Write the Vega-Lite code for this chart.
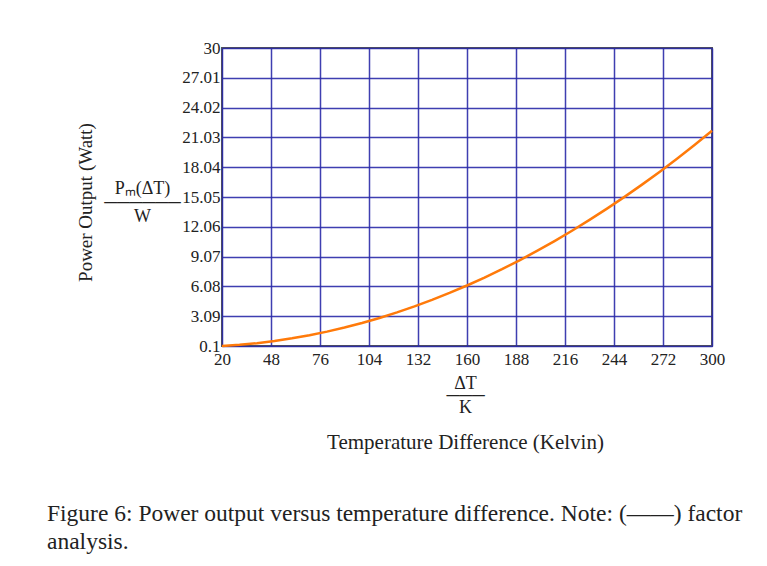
{
  "$schema": "https://vega.github.io/schema/vega-lite/v6.json",
  "width": 490,
  "height": 298,
  "autosize": "none",
  "padding": {"left": 222, "top": 48, "right": 55, "bottom": 220},
  "background": "white",
  "config": {
    "view": {"stroke": "#555555", "strokeWidth": 2},
    "font": "Liberation Serif",
    "axis": {
      "labelFont": "Liberation Serif",
      "labelFontSize": 17,
      "labelColor": "#222222",
      "labelFlush": false,
      "titleFont": "Liberation Serif",
      "titleFontWeight": "normal",
      "titleColor": "#222222"
    }
  },
  "title": {
    "text": ["Figure 6: Power output versus temperature difference. Note: (——) factor", "analysis."],
    "orient": "bottom",
    "anchor": "start",
    "frame": "group",
    "dx": -175,
    "offset": 50,
    "font": "Liberation Serif",
    "fontSize": 23.5,
    "fontWeight": "normal",
    "color": "#222222",
    "lineHeight": 28
  },
  "data": {
    "values": [
      {"dT": 20, "P": 0.1},
      {"dT": 30, "P": 0.217},
      {"dT": 40, "P": 0.386},
      {"dT": 50, "P": 0.603},
      {"dT": 60, "P": 0.868},
      {"dT": 70, "P": 1.181},
      {"dT": 80, "P": 1.542},
      {"dT": 90, "P": 1.952},
      {"dT": 100, "P": 2.41},
      {"dT": 110, "P": 2.916},
      {"dT": 120, "P": 3.47},
      {"dT": 130, "P": 4.073},
      {"dT": 140, "P": 4.724},
      {"dT": 150, "P": 5.423},
      {"dT": 160, "P": 6.17},
      {"dT": 170, "P": 6.965},
      {"dT": 180, "P": 7.808},
      {"dT": 190, "P": 8.7},
      {"dT": 200, "P": 9.64},
      {"dT": 210, "P": 10.628},
      {"dT": 220, "P": 11.664},
      {"dT": 230, "P": 12.749},
      {"dT": 240, "P": 13.882},
      {"dT": 250, "P": 15.063},
      {"dT": 260, "P": 16.292},
      {"dT": 270, "P": 17.569},
      {"dT": 280, "P": 18.894},
      {"dT": 290, "P": 20.268},
      {"dT": 300, "P": 21.69}
    ]
  },
  "layer": [
    {
      "mark": {"type": "line", "strokeOpacity": 0},
      "encoding": {
        "x": {
          "field": "dT", "type": "quantitative",
          "scale": {"domain": [20, 300], "nice": false, "zero": false},
          "axis": {
            "orient": "bottom",
            "labels": false, "ticks": false, "domain": false, "grid": false,
            "title": "Temperature Difference (Kelvin)",
            "titleFontSize": 21,
            "titleX": 243, "titleY": 96, "titleBaseline": "middle", "titleAlign": "center"
          }
        },
        "y": {
          "field": "P", "type": "quantitative",
          "scale": {"domain": [0.1, 30], "nice": false, "zero": false},
          "axis": {
            "orient": "left",
            "labels": false, "ticks": false, "domain": false, "grid": false,
            "title": "Power Output (Watt)",
            "titleFontSize": 19,
            "titleAngle": -90,
            "titleX": -137, "titleY": 154, "titleBaseline": "middle", "titleAlign": "center"
          }
        }
      }
    },
    {
      "mark": {"type": "line", "color": "#ff7a0a", "strokeWidth": 2.5},
      "encoding": {
        "x": {
          "field": "dT", "type": "quantitative",
          "scale": {"domain": [20, 300], "nice": false, "zero": false},
          "axis": {
            "orient": "bottom",
            "values": [20, 48, 76, 104, 132, 160, 188, 216, 244, 272, 300],
            "format": "d",
            "ticks": false, "domain": false,
            "grid": true, "gridColor": "#2a2aa8", "gridWidth": 1.5, "gridOpacity": 0.9,
            "labelPadding": 5,
            "title": ["ΔT", "───", "K"],
            "titleFontSize": 18, "titleLineHeight": 12,
            "titleX": 243, "titleY": 37, "titleBaseline": "middle", "titleAlign": "center"
          }
        },
        "y": {
          "field": "P", "type": "quantitative",
          "scale": {"domain": [0.1, 30], "nice": false, "zero": false},
          "axis": {
            "orient": "left",
            "values": [0.1, 3.09, 6.08, 9.07, 12.06, 15.05, 18.04, 21.03, 24.02, 27.01, 30],
            "format": ".4~r",
            "ticks": false, "domain": false,
            "grid": true, "gridColor": "#2a2aa8", "gridWidth": 1.5, "gridOpacity": 0.9,
            "labelPadding": 2,
            "title": ["Pₘ(ΔT)", "──────", "W"],
            "titleFontSize": 18, "titleLineHeight": 14,
            "titleAngle": 0,
            "titleX": -80, "titleY": 140, "titleBaseline": "middle", "titleAlign": "center"
          }
        }
      }
    }
  ],
  "resolve": {"axis": {"x": "independent", "y": "independent"}}
}
